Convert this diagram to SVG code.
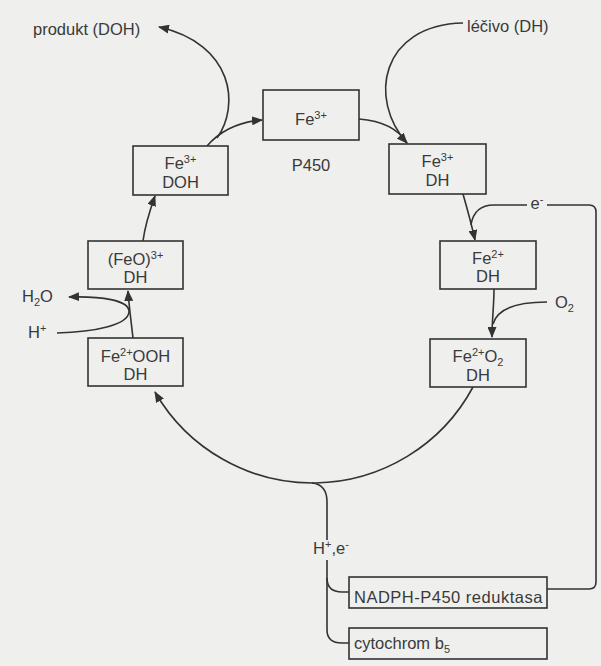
<svg xmlns="http://www.w3.org/2000/svg" width="601" height="666" viewBox="0 0 601 666">
<style>
  .bg{fill:#efefed}
  .box{fill:#efefed;stroke:#333;stroke-width:1.6}
  .t{font-family:"Liberation Sans",Arial,sans-serif;font-size:16.5px;fill:#3a3a3a}
  .c{text-anchor:middle}
  .sup{font-size:11px}
  .ln{fill:none;stroke:#333;stroke-width:1.6}
</style>
<defs>
  <marker id="ah" markerUnits="userSpaceOnUse" markerWidth="11" markerHeight="9" refX="10" refY="4.5" orient="auto">
    <path d="M0,0 L11,4.5 L0,9 z" fill="#333"/>
  </marker>
</defs>
<rect class="bg" x="0" y="0" width="601" height="666"/>

<g id="connectors">
  <!-- Fe3+ DOH -> P450 -->
  <path class="ln" d="M207 146 C220 131 238 122 262 120" marker-end="url(#ah)"/>
  <!-- branch to produkt -->
  <path class="ln" d="M217 138 C240 106 234 44 159 27" marker-end="url(#ah)"/>
  <!-- P450 -> Fe3+ DH -->
  <path class="ln" d="M359 119 C384 121 399 130 407 143"/>
  <!-- lecivo -> Fe3+ DH -->
  <path class="ln" d="M463 23 C380 25 368 100 407 143" marker-end="url(#ah)"/>
  <!-- Fe3+ DH -> Fe2+ DH -->
  <path class="ln" d="M463 194 C467 208 471 222 475 240" marker-end="url(#ah)"/>
  <!-- e- branch -->
  <path class="ln" d="M527 205 L494 205 C481 205 473 212 471 225"/>
  <path class="ln" d="M547 205 L589 205 Q596 205 596 212 L596 582 Q596 589 589 589 L547 589"/>
  <!-- Fe2+ DH -> Fe2+O2 DH -->
  <path class="ln" d="M494 289 C494 305 492 320 492 337" marker-end="url(#ah)"/>
  <!-- O2 branch -->
  <path class="ln" d="M547 302 C515 302 497 310 493 324"/>
  <!-- Fe2+O2 DH -> Fe2+OOH DH (bottom arc) -->
  <path class="ln" d="M473 387 A182 182 0 0 1 155 392" marker-end="url(#ah)"/>
  <!-- Fe2+OOH -> (FeO)3+ -->
  <path class="ln" d="M133 338 C131 320 129 306 128 291" marker-end="url(#ah)"/>
  <!-- H+ in, H2O out -->
  <path class="ln" d="M57 333 C95 332 128 325 129 312 C130 300 100 296 69 297" marker-end="url(#ah)"/>
  <!-- (FeO)3+ -> Fe3+ DOH -->
  <path class="ln" d="M143 241 C145 225 150 210 155 196" marker-end="url(#ah)"/>
  <!-- reductase supply -->
  <path class="ln" d="M312 483 C322 484 327 490 327 502 L327 540"/>
  <path class="ln" d="M327 560 L327 630 Q327 643 342 643 L349 643"/>
  <path class="ln" d="M327 578 Q327 592 342 592 L349 592"/>
</g>

<g id="n_p450">
  <rect class="box" x="263" y="90" width="96" height="50"/>
  <text class="t c" x="311" y="125">Fe<tspan class="sup" dy="-6">3+</tspan></text>
  <text class="t c" x="311" y="171">P450</text>
</g>
<g id="n_fe3doh">
  <rect class="box" x="133" y="146" width="95" height="49"/>
  <text class="t c" x="180.5" y="169">Fe<tspan class="sup" dy="-6">3+</tspan></text>
  <text class="t c" x="180.5" y="188">DOH</text>
</g>
<g id="n_fe3dh">
  <rect class="box" x="389" y="144" width="97" height="50"/>
  <text class="t c" x="437.5" y="167">Fe<tspan class="sup" dy="-6">3+</tspan></text>
  <text class="t c" x="437.5" y="186">DH</text>
</g>
<g id="n_fe2dh">
  <rect class="box" x="440" y="241" width="96" height="48"/>
  <text class="t c" x="488" y="264">Fe<tspan class="sup" dy="-6">2+</tspan></text>
  <text class="t c" x="488" y="282">DH</text>
</g>
<g id="n_fe2o2">
  <rect class="box" x="430" y="339" width="96" height="48"/>
  <text class="t c" x="478" y="362">Fe<tspan class="sup" dy="-6">2+</tspan><tspan dy="6">O</tspan><tspan class="sup" dy="4">2</tspan></text>
  <text class="t c" x="478" y="381">DH</text>
</g>
<g id="n_fe2ooh">
  <rect class="box" x="88" y="338" width="95" height="48"/>
  <text class="t c" x="135.5" y="362">Fe<tspan class="sup" dy="-6">2+</tspan><tspan dy="6">OOH</tspan></text>
  <text class="t c" x="135.5" y="380">DH</text>
</g>
<g id="n_feo">
  <rect class="box" x="88" y="241" width="95" height="48"/>
  <text class="t c" x="135.5" y="265">(FeO)<tspan class="sup" dy="-6">3+</tspan></text>
  <text class="t c" x="135.5" y="283">DH</text>
</g>
<g id="n_nadph">
  <rect class="box" x="349" y="577" width="198" height="31"/>
  <text class="t" x="354" y="603" letter-spacing="0.5">NADPH-P450 reduktasa</text>
</g>
<g id="n_cyto">
  <rect class="box" x="349" y="628" width="198" height="31"/>
  <text class="t" x="354" y="649">cytochrom b<tspan class="sup" dy="4">5</tspan></text>
</g>

<g id="labels">
  <text class="t" x="33" y="35">produkt (DOH)</text>
  <text class="t" x="467" y="32">léčivo (DH)</text>
  <text class="t" x="22" y="302">H<tspan class="sup" dy="4">2</tspan><tspan dy="-4">O</tspan></text>
  <text class="t" x="28" y="338">H<tspan class="sup" dy="-6">+</tspan></text>
  <text class="t" x="555" y="308">O<tspan class="sup" dy="4">2</tspan></text>
  <text class="t c" x="537" y="209">e<tspan class="sup" dy="-6">-</tspan></text>
  <text class="t c" x="331" y="554">H<tspan class="sup" dy="-6">+</tspan><tspan dy="6">,e</tspan><tspan class="sup" dy="-6">-</tspan></text>
</g>
</svg>
